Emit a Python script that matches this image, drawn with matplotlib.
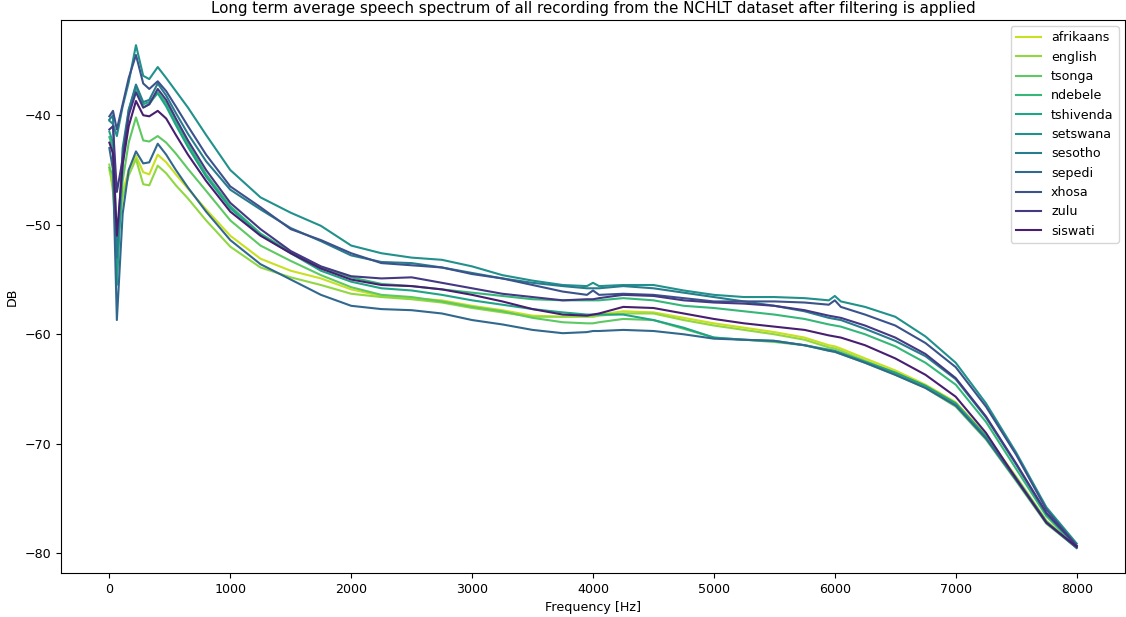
import numpy as np
import matplotlib
matplotlib.use('Agg')
import matplotlib.pyplot as plt

plt.rcParams['font.size'] = 9.1

# frequency bins (Hz)
freqs = [0, 30, 62, 110, 160, 220, 280, 330, 400, 470,
         550, 650, 800, 1000, 1250, 1500, 1750, 2000, 2250, 2500,
         2750, 3000, 3250, 3500, 3750, 3950, 4000, 4050, 4250, 4500,
         4750, 5000, 5250, 5500, 5750, 5950, 6000, 6050, 6250, 6500,
         6750, 7000, 7250, 7500, 7750, 8000]

afrikaans = [-45.0, -46.5, -50.5, -47.0, -45.0, -43.7, -45.2, -45.4, -43.6, -44.3,
             -45.4, -46.7, -48.6, -51.0, -53.1, -54.2, -54.9, -55.9, -56.5, -56.7,
             -56.9, -57.4, -57.8, -58.3, -58.4, -58.3, -58.3, -58.2, -57.9, -58.0,
             -58.5, -59.0, -59.4, -59.8, -60.3, -61.0, -61.1, -61.3, -62.2, -63.3,
             -64.6, -66.2, -69.2, -73.0, -77.0, -79.4]
english = [-44.5, -47.0, -52.0, -47.5, -45.5, -44.0, -46.3, -46.4, -44.6, -45.3,
           -46.4, -47.6, -49.6, -52.0, -53.9, -54.8, -55.5, -56.3, -56.6, -56.8,
           -57.1, -57.6, -58.0, -58.4, -58.4, -58.4, -58.4, -58.3, -58.1, -58.1,
           -58.7, -59.2, -59.6, -60.0, -60.5, -61.2, -61.3, -61.5, -62.4, -63.5,
           -64.8, -66.4, -69.4, -73.2, -77.1, -79.4]
tsonga = [-44.8, -45.5, -53.0, -46.0, -42.5, -40.2, -42.3, -42.4, -41.9, -42.5,
          -43.5, -44.9, -46.9, -49.6, -51.9, -53.3, -54.6, -55.7, -56.4, -56.6,
          -57.0, -57.5, -57.9, -58.5, -58.9, -59.0, -59.0, -58.9, -58.6, -58.7,
          -59.5, -60.3, -60.5, -60.7, -61.0, -61.5, -61.6, -61.8, -62.6, -63.7,
          -64.9, -66.6, -69.6, -73.4, -77.3, -79.5]
ndebele = [-42.0, -43.0, -54.0, -44.0, -39.5, -37.4, -39.3, -39.0, -37.9, -38.9,
           -40.6, -42.6, -45.4, -48.3, -50.8, -52.5, -53.9, -54.8, -55.4, -55.6,
           -55.9, -56.2, -56.5, -56.8, -56.9, -56.9, -56.9, -56.9, -56.7, -56.9,
           -57.4, -57.6, -57.9, -58.2, -58.6, -59.1, -59.2, -59.3, -60.0, -61.1,
           -62.6, -64.6, -68.0, -72.3, -76.6, -79.4]
tshivenda = [-41.5, -42.5, -55.5, -44.5, -39.8, -37.4, -39.0, -38.8, -38.0, -39.2,
             -40.9, -42.9, -45.6, -48.5, -50.9, -52.6, -54.2, -55.2, -55.8, -56.0,
             -56.4, -56.9, -57.3, -57.7, -58.0, -58.2, -58.2, -58.2, -58.2, -58.7,
             -59.4, -60.3, -60.5, -60.6, -61.0, -61.4, -61.5, -61.7, -62.5, -63.5,
             -64.7, -66.3, -69.3, -73.1, -77.1, -79.5]
setswana = [-40.5, -40.8, -41.9, -39.2, -37.0, -33.6, -36.4, -36.7, -35.6, -36.6,
            -37.8, -39.3, -41.8, -45.0, -47.5, -48.9, -50.1, -51.9, -52.6, -53.0,
            -53.2, -53.8, -54.6, -55.1, -55.5, -55.6, -55.3, -55.6, -55.5, -55.5,
            -56.0, -56.4, -56.6, -56.6, -56.7, -56.9, -56.5, -57.0, -57.5, -58.4,
            -60.2, -62.6, -66.3, -70.8, -75.8, -79.1]
sesotho = [-40.4, -40.0, -53.0, -43.0, -39.5, -37.2, -38.8, -38.6, -37.1, -38.2,
           -39.8, -41.7, -44.2, -46.8, -48.6, -50.3, -51.5, -52.8, -53.4, -53.5,
           -53.9, -54.4, -54.9, -55.3, -55.6, -55.8, -55.8, -55.8, -55.6, -55.8,
           -56.2, -56.6, -57.0, -57.4, -57.9, -58.5, -58.6, -58.7, -59.5, -60.6,
           -62.0, -64.1, -67.6, -71.9, -76.4, -79.3]
sepedi = [-43.0, -45.0, -58.7, -49.0, -45.0, -43.3, -44.4, -44.3, -42.6, -43.6,
          -45.0, -46.6, -48.8, -51.4, -53.6, -55.0, -56.4, -57.4, -57.7, -57.8,
          -58.1, -58.7, -59.1, -59.6, -59.9, -59.8, -59.7, -59.7, -59.6, -59.7,
          -60.0, -60.4, -60.5, -60.6, -61.0, -61.5, -61.6, -61.8, -62.6, -63.7,
          -64.9, -66.5, -69.5, -73.3, -77.2, -79.5]
xhosa = [-40.1, -39.6, -41.3, -39.0, -36.6, -34.5, -37.1, -37.6, -36.9, -37.8,
         -39.2, -41.0, -43.6, -46.5, -48.4, -50.4, -51.4, -52.6, -53.5, -53.7,
         -53.9, -54.5, -54.9, -55.5, -56.1, -56.4, -56.0, -56.4, -56.3, -56.4,
         -56.7, -57.0, -57.0, -57.0, -57.1, -57.3, -56.9, -57.5, -58.2, -59.2,
         -60.8, -63.0, -66.6, -71.0, -76.0, -79.3]
zulu = [-41.3, -41.0, -47.0, -44.0, -40.0, -37.9, -39.3, -39.0, -37.6, -38.6,
        -40.3, -42.3, -45.0, -48.0, -50.4, -52.4, -53.8, -54.7, -54.9, -54.8,
        -55.3, -55.8, -56.3, -56.6, -56.9, -56.8, -56.8, -56.7, -56.4, -56.5,
        -56.9, -57.1, -57.2, -57.4, -57.8, -58.3, -58.4, -58.5, -59.2, -60.3,
        -61.8, -64.0, -67.5, -71.8, -76.3, -79.3]
siswati = [-42.5, -43.5, -51.0, -44.5, -41.0, -38.7, -40.0, -40.1, -39.6, -40.3,
           -41.8, -43.6, -46.0, -48.8, -51.0, -52.6, -54.0, -55.0, -55.5, -55.6,
           -55.9, -56.4, -57.0, -57.7, -58.2, -58.3, -58.2, -58.1, -57.5, -57.6,
           -58.1, -58.6, -59.0, -59.3, -59.6, -60.1, -60.2, -60.3, -61.0, -62.2,
           -63.7, -65.7, -69.0, -73.2, -77.2, -79.4]

languages = ['afrikaans', 'english', 'tsonga', 'ndebele', 'tshivenda', 'setswana',
             'sesotho', 'sepedi', 'xhosa', 'zulu', 'siswati']
spectra = [afrikaans, english, tsonga, ndebele, tshivenda, setswana,
           sesotho, sepedi, xhosa, zulu, siswati]

# viridis sampled like seaborn, reversed
cmap = plt.get_cmap('viridis')
colors = [cmap(v) for v in np.linspace(0, 1, len(languages) + 2)[1:-1]][::-1]

fig = plt.figure(figsize=(11.26, 6.17), dpi=100)
ax = fig.add_axes([61/1126, 44/617, 1064/1126, 553/617])

for name, vals, c in zip(languages, spectra, colors):
    ax.plot(freqs, vals, color=c, linewidth=1.5, label=name)

ax.set_title('Long term average speech spectrum of all recording from the NCHLT dataset after filtering is applied',
             pad=5)
ax.set_xlabel('Frequency [Hz]')
ax.set_ylabel('DB')
ax.legend(loc='upper right')

fig.savefig('out.png', dpi=100)
